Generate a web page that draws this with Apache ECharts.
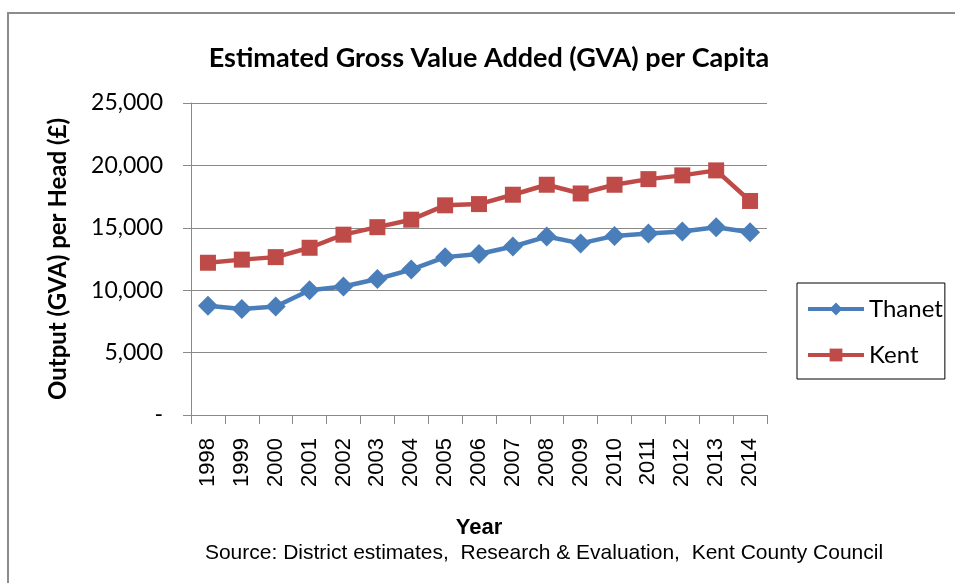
<!DOCTYPE html>
<html>
<head>
<meta charset="utf-8">
<script src="https://cdn.jsdelivr.net/npm/echarts@6/dist/echarts.min.js"></script>
<style>
html, body { margin: 0; padding: 0; background: #fff; }
#chart { width: 955px; height: 583px; }
</style>
</head>
<body>
<div id="chart"></div>
<script>
// data
var years = ['1998', '1999', '2000', '2001', '2002', '2003', '2004', '2005', '2006',
    '2007', '2008', '2009', '2010', '2011', '2012', '2013', '2014'];
var thanet = [8750, 8500, 8700, 10000, 10300, 10900, 11650, 12650, 12900,
    13500, 14300, 13750, 14350, 14550, 14700, 15050, 14650];
var kent = [12200, 12450, 12650, 13400, 14450, 15050, 15650, 16800, 16900,
    17650, 18450, 17750, 18450, 18900, 19200, 19600, 17150];

var calibri = 'Lato, "Open Sans", sans-serif';
var arial = '"Liberation Sans", Arial, sans-serif';

var myChart = echarts.init(document.getElementById('chart'));
var option = {
    animation: false,
    backgroundColor: '#fff',
    graphic: [
        {
            type: 'rect',
            shape: {x: 8, y: 13, width: 980, height: 620},
            style: {fill: null, stroke: '#8c8c8c', lineWidth: 2},
            silent: true
        },
        {
            type: 'text',
            x: 544,
            y: 553,
            style: {
                text: 'Source: District estimates,  Research & Evaluation,  Kent County Council',
                font: '21px ' + arial,
                fill: '#000',
                align: 'center',
                verticalAlign: 'middle'
            }
        }
    ],
    title: {
        text: 'Estimated Gross Value Added (GVA) per Capita',
        left: 484,
        textAlign: 'center',
        top: 40,
        textStyle: {fontFamily: calibri, fontWeight: 'bold', fontSize: 27, color: '#000'}
    },
    legend: {
        orient: 'vertical',
        left: 797,
        top: 283,
        padding: [14, 2, 12, 9],
        itemWidth: 56,
        itemHeight: 16,
        itemGap: 22,
        borderColor: '#000',
        borderWidth: 1,
        lineStyle: {width: 4},
        textStyle: {fontFamily: calibri, fontSize: 24, color: '#000'},
        data: ['Thanet', 'Kent']
    },
    grid: {left: 191, right: 188, top: 103, bottom: 168},
    xAxis: {
        type: 'category',
        data: years,
        boundaryGap: true,
        name: 'Year',
        nameLocation: 'middle',
        nameGap: 102,
        nameTextStyle: {fontFamily: arial, fontWeight: 'bold', fontSize: 22, color: '#000'},
        axisLine: {lineStyle: {color: '#898989', width: 1}},
        axisTick: {show: true, alignWithLabel: false, length: 9, lineStyle: {color: '#898989'}},
        axisLabel: {rotate: 90, margin: 23, fontFamily: arial, fontSize: 22, color: '#000', interval: 0}
    },
    yAxis: {
        type: 'value',
        min: 0,
        max: 25000,
        interval: 5000,
        name: 'Output (GVA) per Head (£)',
        nameLocation: 'middle',
        nameRotate: 90,
        nameGap: 121,
        nameTextStyle: {fontFamily: calibri, fontWeight: 'bold', fontSize: 24, color: '#000'},
        axisLine: {show: true, lineStyle: {color: '#898989', width: 1}},
        axisTick: {show: true, inside: false, length: 8, lineStyle: {color: '#898989'}},
        axisLabel: {
            margin: 28,
            fontFamily: calibri,
            fontSize: 23,
            color: '#000',
            formatter: function (v) {
                return v === 0 ? '-' : v.toLocaleString('en-US');
            }
        },
        splitLine: {show: true, lineStyle: {color: '#898989', width: 1}}
    },
    series: [
        {
            name: 'Thanet',
            type: 'line',
            data: thanet,
            symbol: 'diamond',
            symbolSize: 20,
            color: '#4a7ebb',
            lineStyle: {width: 4.5, color: '#4a7ebb'},
            itemStyle: {color: '#4a7ebb'}
        },
        {
            name: 'Kent',
            type: 'line',
            data: kent,
            symbol: 'rect',
            symbolSize: 16,
            color: '#be4b48',
            lineStyle: {width: 4.5, color: '#be4b48'},
            itemStyle: {color: '#be4b48'}
        }
    ]
};
myChart.setOption(option);
</script>
</body>
</html>
